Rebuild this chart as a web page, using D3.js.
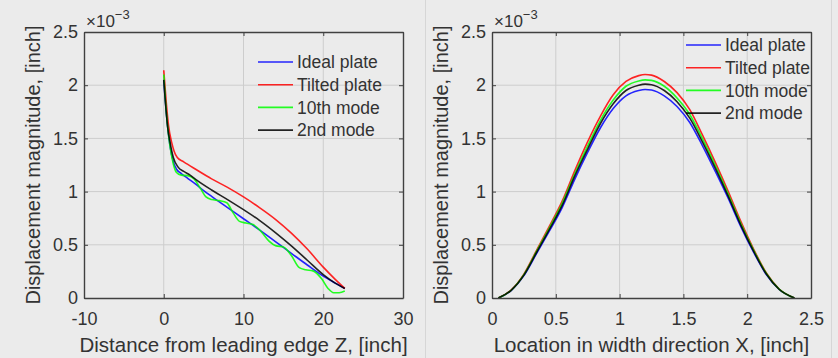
<!DOCTYPE html>
<html>
<head>
<meta charset="utf-8">
<script src="https://cdn.jsdelivr.net/npm/d3@7/dist/d3.min.js"></script>
<style>
  body { margin: 0; background: #ebebeb; }
  svg { display: block; font-family: "Liberation Sans", Arial, sans-serif; }
</style>
</head>
<body>
<svg id="fig" width="838" height="358"></svg>
<script>
// ---- left panel: distance from leading edge Z [inch], displacement x1e-3 [inch]
const zIdeal  = [0, 0.2, 0.5, 0.8, 1.2, 1.6, 2.2, 3, 4, 5, 6, 8, 10, 12, 14, 16, 18, 20, 21.5, 22.7];
const leftIdeal = [2.05, 1.85, 1.6, 1.42, 1.28, 1.21, 1.17, 1.125, 1.07, 1.01, 0.955, 0.85, 0.745, 0.64, 0.53, 0.42, 0.31, 0.205, 0.14, 0.09];

const zTilted = [0, 0.3, 0.6, 1.0, 1.3, 1.7, 2.5, 4, 6, 8, 10, 12, 14, 16, 18, 20, 21.5, 22.7];
const leftTilted = [2.14, 1.85, 1.62, 1.46, 1.38, 1.32, 1.28, 1.21, 1.12, 1.04, 0.95, 0.85, 0.74, 0.61, 0.46, 0.29, 0.175, 0.09];

const zTenth = [0, 0.2, 0.5, 0.8, 1.2, 1.6, 2.2, 3.0, 3.8, 4.6, 5.3, 6.0, 7.0, 7.9, 8.7, 9.5, 10.3, 11.2, 12.2, 13.2, 14.1, 15.0, 16.0, 17.0, 17.8, 18.7, 19.8, 20.6, 21.3, 22.0, 22.7];
const leftTenth = [2.10, 1.87, 1.6, 1.42, 1.26, 1.18, 1.155, 1.15, 1.12, 1.03, 0.95, 0.925, 0.915, 0.895, 0.80, 0.72, 0.705, 0.69, 0.625, 0.535, 0.49, 0.48, 0.40, 0.285, 0.265, 0.255, 0.18, 0.09, 0.05, 0.05, 0.065];

const zSecond = [0, 0.2, 0.5, 0.8, 1.2, 1.8, 2.5, 3.3, 4, 6, 8, 10, 12, 14, 16, 18, 20, 21.5, 22.7];
const leftSecond = [2.05, 1.85, 1.6, 1.46, 1.32, 1.23, 1.19, 1.155, 1.115, 1.015, 0.925, 0.83, 0.73, 0.615, 0.49, 0.355, 0.22, 0.14, 0.09];

// ---- right panel: location in width direction X [inch]
const xWidth = [0.05, 0.15, 0.25, 0.35, 0.45, 0.55, 0.65, 0.75, 0.85, 0.95, 1.05, 1.15, 1.2, 1.25, 1.35, 1.45, 1.55, 1.65, 1.75, 1.85, 1.95, 2.05, 2.15, 2.25, 2.37];
const rightIdeal  = [0, 0.07, 0.21, 0.42, 0.63, 0.85, 1.12, 1.37, 1.60, 1.78, 1.90, 1.95, 1.96, 1.955, 1.90, 1.80, 1.65, 1.43, 1.19, 0.94, 0.67, 0.43, 0.22, 0.08, 0];
const rightTilted = [0, 0.075, 0.225, 0.45, 0.675, 0.91, 1.20, 1.47, 1.71, 1.91, 2.035, 2.09, 2.10, 2.095, 2.035, 1.93, 1.77, 1.53, 1.275, 1.005, 0.72, 0.46, 0.235, 0.085, 0];
const rightTenth  = [0, 0.073, 0.22, 0.44, 0.66, 0.89, 1.17, 1.43, 1.67, 1.86, 1.99, 2.04, 2.05, 2.045, 1.99, 1.88, 1.725, 1.495, 1.245, 0.98, 0.70, 0.45, 0.23, 0.084, 0];
const rightSecond = [0, 0.072, 0.215, 0.43, 0.645, 0.87, 1.15, 1.40, 1.64, 1.825, 1.95, 2.0, 2.01, 2.005, 1.95, 1.845, 1.69, 1.465, 1.22, 0.96, 0.685, 0.44, 0.225, 0.082, 0];

const seriesNames = ['Ideal plate', 'Tilted plate', '10th mode', '2nd mode'];
const seriesColors = ['#0000ff', '#ff0000', '#00ff00', '#000000'];

const yTicks = [0, 0.5, 1, 1.5, 2, 2.5];
const leftXTicks = [-10, 0, 10, 20, 30];
const rightXTicks = [0, 0.5, 1, 1.5, 2, 2.5];

const svg = d3.select('#fig');

// faint panel borders
svg.append('line').attr('x1', 425.5).attr('x2', 425.5).attr('y1', 0).attr('y2', 358)
  .attr('stroke', '#d6d6d6');
svg.append('line').attr('x1', 831.5).attr('x2', 831.5).attr('y1', 0).attr('y2', 358)
  .attr('stroke', '#d6d6d6');

// draws one axes box with grid, ticks, lines and legend
function drawPanel(p) {
  const g = svg.append('g').attr('transform', `translate(${p.left}, 32)`);
  const w = 319, h = 266;

  const x = d3.scaleLinear().domain(p.xDomain).range([0, w]);
  const y = d3.scaleLinear().domain([0, 2.5]).range([h, 0]);

  // grid
  g.append('g').selectAll('line').data(p.xTicks.slice(1, -1)).join('line')
    .attr('x1', d => x(d)).attr('x2', d => x(d)).attr('y1', 0).attr('y2', h)
    .attr('stroke', '#cdcdcd').attr('stroke-width', 1);
  g.append('g').selectAll('line').data(yTicks.slice(1, -1)).join('line')
    .attr('x1', 0).attr('x2', w).attr('y1', d => y(d)).attr('y2', d => y(d))
    .attr('stroke', '#cdcdcd').attr('stroke-width', 1);

  // data lines
  const line = d3.line().x(d => x(d[0])).y(d => y(d[1])).curve(d3.curveMonotoneX);
  p.series.forEach((s, i) => {
    g.append('path')
      .attr('d', line(s.xs.map((v, j) => [v, s.ys[j]])))
      .attr('fill', 'none')
      .attr('stroke', seriesColors[i])
      .attr('stroke-width', 1.6)
      .attr('stroke-opacity', 0.85);
  });

  // axes, ticks pointing inward
  const fmt = d => String(d);
  const xb = g.append('g').attr('transform', `translate(0, ${h})`)
    .call(d3.axisBottom(x).tickValues(p.xTicks).tickFormat(fmt).tickSizeInner(-4).tickSizeOuter(0).tickPadding(14));
  const xt = g.append('g')
    .call(d3.axisTop(x).tickValues(p.xTicks).tickFormat('').tickSizeInner(-4).tickSizeOuter(0));
  const yl = g.append('g')
    .call(d3.axisLeft(y).tickValues(yTicks).tickFormat(fmt).tickSizeInner(-4).tickSizeOuter(0).tickPadding(6));
  const yr = g.append('g').attr('transform', `translate(${w}, 0)`)
    .call(d3.axisRight(y).tickValues(yTicks).tickFormat('').tickSizeInner(-4).tickSizeOuter(0));
  [xb, xt, yl, yr].forEach(a => {
    a.select('.domain').attr('stroke', '#404040').attr('stroke-width', 1.4);
    a.selectAll('.tick line').attr('stroke', '#404040');
    a.selectAll('.tick text').attr('fill', '#333').attr('font-size', 18).attr('font-family', null);
  });

  // exponent label
  const ex = g.append('text').attr('x', 2).attr('y', -5).attr('fill', '#333').attr('font-size', 17);
  ex.append('tspan').text('\u00d710');
  ex.append('tspan').attr('dy', -8).attr('font-size', 13).text('\u22123');

  // axis labels
  g.append('text').attr('x', w / 2).attr('y', h + 54).attr('text-anchor', 'middle')
    .attr('fill', '#333').attr('font-size', 20.5).text(p.xLabel);
  g.append('text').attr('transform', `translate(${-44}, ${h / 2}) rotate(-90)`)
    .attr('text-anchor', 'middle').attr('fill', '#333').attr('font-size', 20)
    .text('Displacement magnitude, [inch]');

  // legend
  const lg = g.append('g').attr('transform', `translate(${p.legend[0]}, ${p.legend[1]})`);
  seriesNames.forEach((name, i) => {
    const row = lg.append('g').attr('transform', `translate(0, ${i * 22.7})`);
    row.append('line').attr('x1', 0).attr('x2', 35).attr('y1', 0).attr('y2', 0)
      .attr('stroke', seriesColors[i]).attr('stroke-width', 1.6).attr('stroke-opacity', 0.85);
    row.append('text').attr('x', 39).attr('dy', '0.36em').attr('fill', '#333')
      .attr('font-size', 17.5).text(name);
  });
}

drawPanel({
  left: 84,
  xDomain: [-10, 30],
  xTicks: leftXTicks,
  xLabel: 'Distance from leading edge Z, [inch]',
  legend: [174, 30],
  series: [
    { xs: zIdeal, ys: leftIdeal },
    { xs: zTilted, ys: leftTilted },
    { xs: zTenth, ys: leftTenth },
    { xs: zSecond, ys: leftSecond }
  ]
});

drawPanel({
  left: 492,
  xDomain: [0, 2.5],
  xTicks: rightXTicks,
  xLabel: 'Location in width direction X, [inch]',
  legend: [194, 13],
  series: [
    { xs: xWidth, ys: rightIdeal },
    { xs: xWidth, ys: rightTilted },
    { xs: xWidth, ys: rightTenth },
    { xs: xWidth, ys: rightSecond }
  ]
});
</script>
</body>
</html>
